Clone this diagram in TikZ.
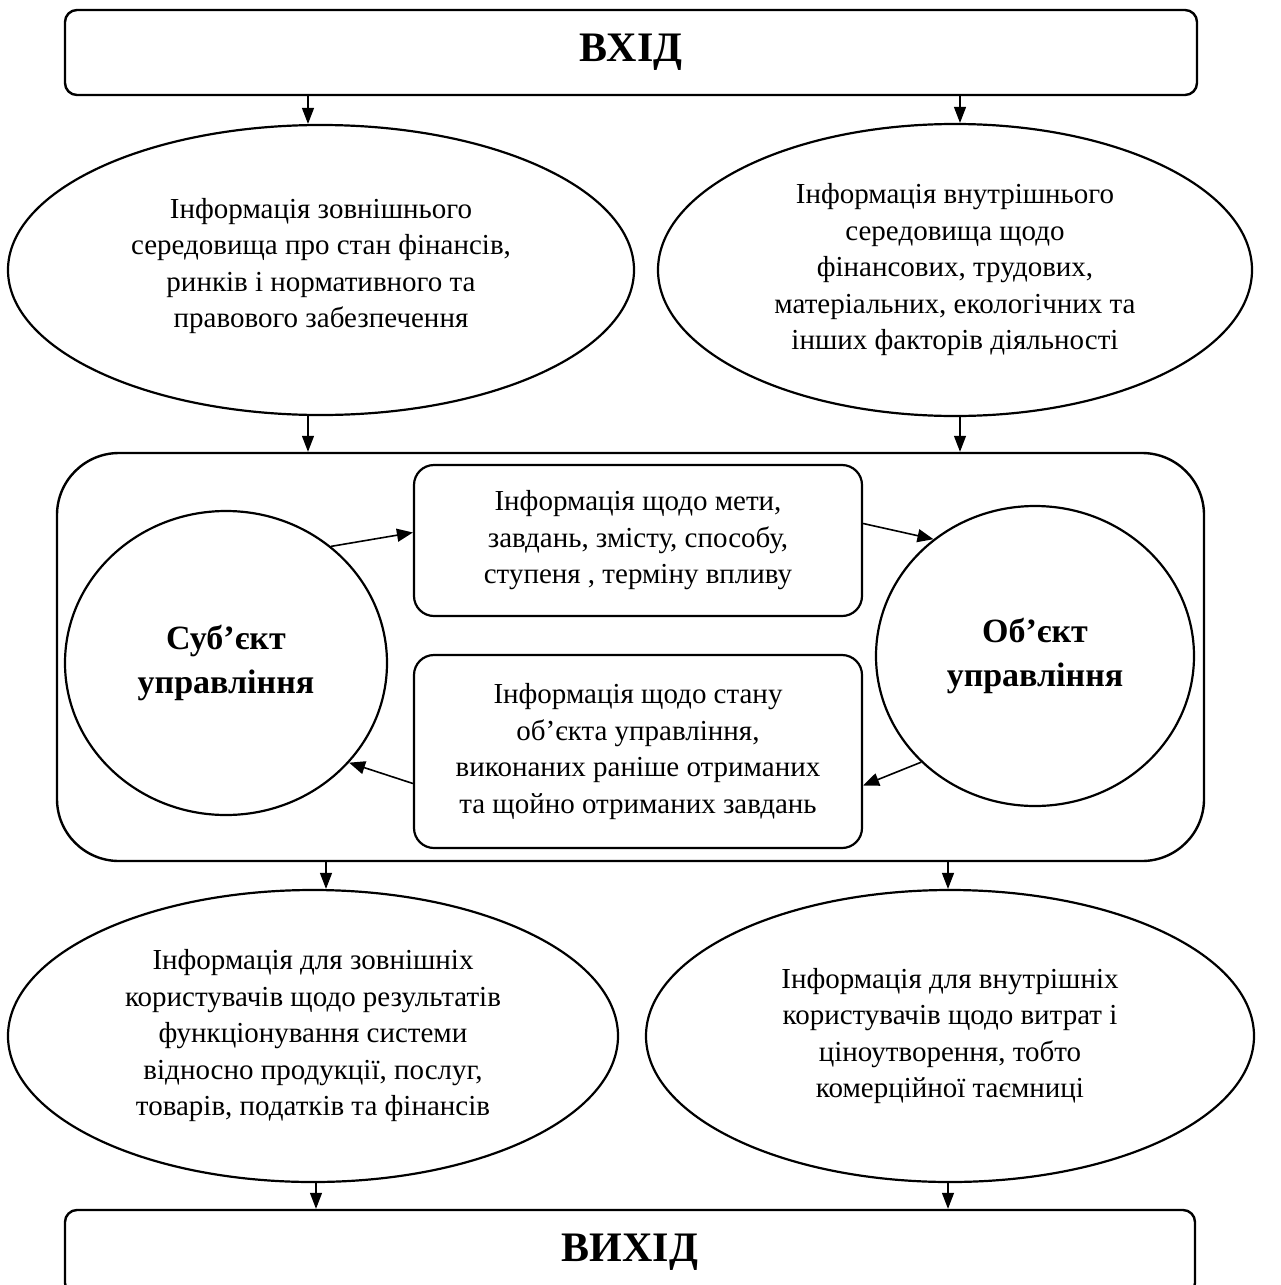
\documentclass[tikz,border=0pt]{standalone}
\usepackage{fontspec}
\setmainfont{Liberation Serif}
\usetikzlibrary{shapes.geometric,arrows.meta,calc}
\begin{document}
\begin{tikzpicture}[x=0.5pt,y=-0.5pt,
  txt/.style={font=\fontsize{14.5}{18.25}\selectfont},
  iobox/.style={draw, line width=1.2pt, rounded corners=6pt, inner sep=0pt,
    minimum height=42.5pt, font=\bfseries\fontsize{21}{25}\selectfont},
  ell/.style={draw, ellipse, line width=1.1pt, inner sep=0pt, align=center, txt},
  circ/.style={draw, ellipse, line width=1.1pt, inner sep=0pt, align=center,
    font=\bfseries\fontsize{17}{22}\selectfont},
  mbox/.style={draw, line width=1.1pt, rounded corners=10pt, inner sep=0pt,
    minimum width=224pt, align=center, txt},
  arr/.style={-{Triangle[length=8pt,width=6pt]}, line width=0.6pt},
  arrm/.style={-{Triangle[length=8pt,width=6.5pt]}, line width=0.8pt}]
\clip (0,0) rectangle (1280,1285);

\node[iobox, minimum width=566pt] (in) at (631,52.5) {ВХІД};

\node[ell, minimum width=313pt, minimum height=145pt, text depth=7pt] (el1) at (321,270)
  {Інформація зовнішнього\\середовища про стан фінансів,\\ринків і нормативного та\\правового забезпечення};
\node[ell, minimum width=297pt, minimum height=146pt] (el2) at (955,270)
  {Інформація внутрішнього\\середовища щодо\\фінансових, трудових,\\матеріальних, екологічних та\\інших факторів діяльності};

\node[draw, line width=1.2pt, rounded corners=31pt, inner sep=0pt,
  minimum width=573.5pt, minimum height=204pt] (frame) at (630.5,657) {};

\node[circ, minimum width=161pt, minimum height=152pt] (subj) at (226,663)
  {Суб’єкт\\управління};
\node[circ, minimum width=159pt, minimum height=150pt] (obj) at (1035,656)
  {Об’єкт\\управління};

\node[mbox, minimum height=75.5pt] (tb) at (638,540.5)
  {Інформація щодо мети,\\завдань, змісту, способу,\\ступеня , терміну впливу};
\node[mbox, minimum height=96.5pt] (bb) at (638,751.5)
  {Інформація щодо стану\\об’єкта управління,\\виконаних раніше отриманих\\та щойно отриманих завдань};

\node[ell, minimum width=305pt, minimum height=146pt] (el3) at (313,1036)
  {Інформація для зовнішніх\\користувачів щодо результатів\\функціонування системи\\відносно продукції, послуг,\\товарів, податків та фінансів};
\node[ell, minimum width=304pt, minimum height=146pt] (el4) at (950,1036)
  {Інформація для внутрішніх\\користувачів щодо витрат і\\ціноутворення, тобто\\комерційної таємниці};

\node[iobox, minimum width=565pt] (out) at (630,1252.5) {ВИХІД};

\coordinate (c1) at (308,0);
\coordinate (c2) at (960,0);
\coordinate (c3) at (326,0);
\coordinate (c4) at (948,0);
\coordinate (c5) at (316,0);

\draw[arr] (c1 |- in.south) -- (c1 |- el1.north);
\draw[arr] (c2 |- in.south) -- (c2 |- el2.north);
\draw[arr] (c1 |- el1.south) -- (c1 |- frame.north);
\draw[arr] (c2 |- el2.south) -- (c2 |- frame.north);
\draw[arr] (c3 |- frame.south) -- (c3 |- el3.north);
\draw[arr] (c4 |- frame.south) -- (c4 |- el4.north);
\draw[arr] (c5 |- el3.south) -- (c5 |- out.north);
\draw[arr] (c4 |- el4.south) -- (c4 |- out.north);

\draw[arrm] (subj.48) -- ($(tb.west)+(0,-8)$);
\draw[arrm] ($(tb.east)+(0,-17)$) -- (obj.131);
\draw[arrm] (obj.223) -- ($(bb.east)+(0,34)$);
\draw[arrm] ($(bb.west)+(0,32)$) -- (subj.321);
\end{tikzpicture}
\end{document}
